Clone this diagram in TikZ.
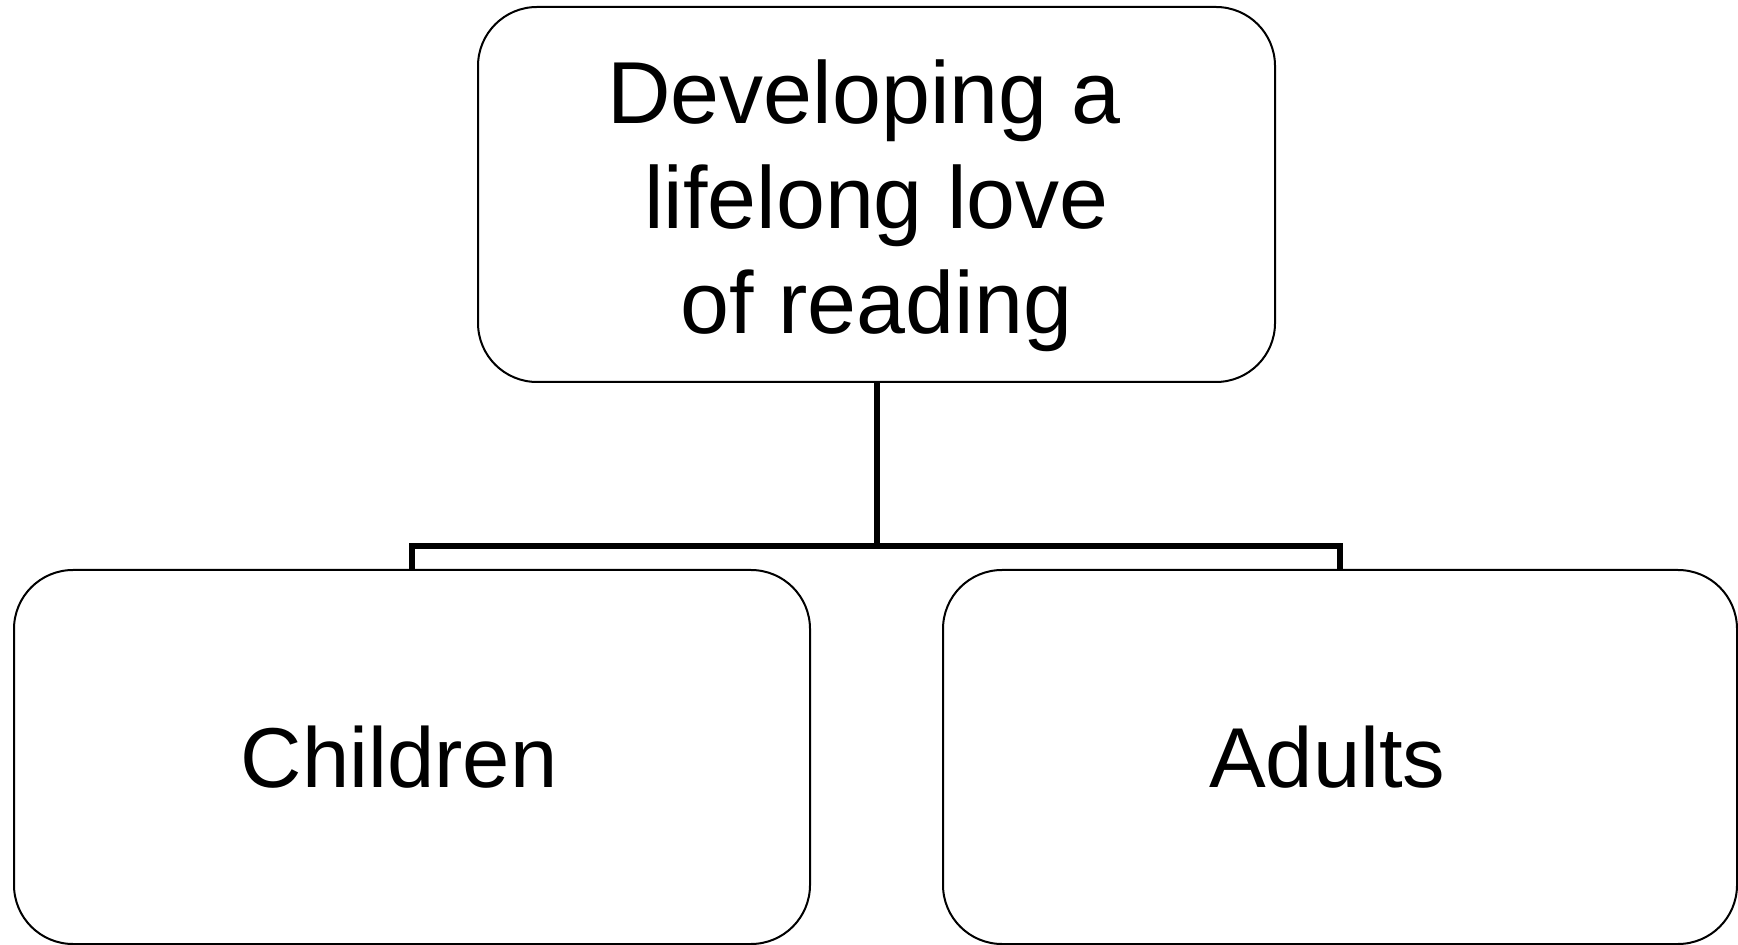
\documentclass[tikz,border=0pt]{standalone}
\usepackage{fontspec}
\setmainfont{Liberation Sans}
\begin{document}
\begin{tikzpicture}[x=0.5pt,y=-0.5pt,
  box/.style={draw=black, line width=1pt, rounded corners=29.5pt, rectangle, inner sep=0pt,
    align=center, font=\fontsize{42.5pt}{52.5pt}\selectfont},
  link/.style={draw=black, line width=3pt}]
\useasboundingbox (0,0) rectangle (1738,945);
\node[box, minimum width=398.5pt, minimum height=187.5pt, font=\fontsize{44pt}{52.5pt}\selectfont] (top) at (876.5,194.5)
  {\rule{0pt}{43pt}Developing a\kern.278em\\lifelong love\\of reading};
\node[box, minimum width=398pt, minimum height=187pt] (left) at (412,757)
  {Children\kern.3em};
\node[box, minimum width=397pt, minimum height=187pt] (right) at (1340,757)
  {Adults\kern.3em};
\coordinate (j) at (876.5,546);
\draw[link] (top.south) -- (j);
\draw[link] (j) -| (left.north);
\draw[link] (j) -| (right.north);
\end{tikzpicture}
\end{document}
